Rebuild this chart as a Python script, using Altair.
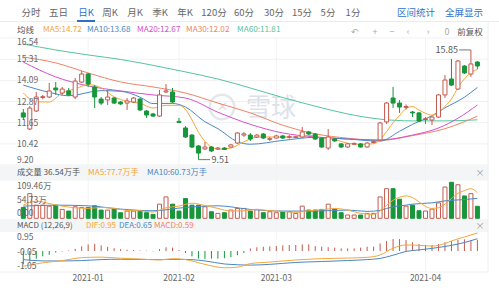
import altair as alt
import pandas as pd
import numpy as np

FONT = "Noto Sans CJK SC"

# ---------------- data ----------------
opens = [12.21, 11.28, 12.32, 13.10, 13.13, 13.65, 13.36, 13.48, 13.13, 13.99,
         14.46, 13.71, 13.01, 12.96, 13.07, 12.84, 12.78, 12.84, 13.01, 12.32,
         12.15, 12.03, 13.42, 13.42, 11.72, 11.34, 10.93, 10.30, 10.13, 10.24,
         10.13, 10.18, 10.24, 10.47, 10.93, 10.93, 10.82, 10.99, 10.68, 10.76,
         10.88, 10.80, 10.80, 10.82, 11.11, 10.99, 10.76, 10.18, 10.70, 10.42,
         10.24, 10.40, 10.42, 10.24, 10.50, 10.65, 11.69, 13.07, 12.78, 12.53,
         12.26, 12.21, 11.83, 11.80, 11.97, 13.25, 14.17, 13.59, 14.92, 14.46,
         15.15]
closes = [11.97, 12.49, 13.13, 13.15, 13.48, 13.54, 13.59, 13.25, 14.05, 14.46,
          13.88, 13.13, 12.78, 13.13, 12.78, 12.73, 12.90, 13.07, 12.38, 12.09,
          12.03, 13.25, 13.48, 12.84, 11.66, 10.82, 10.24, 9.89, 10.24, 10.01,
          10.18, 10.10, 10.36, 11.05, 11.00, 10.70, 10.93, 10.76, 10.72, 10.88,
          10.76, 10.84, 10.83, 11.11, 10.99, 10.70, 10.24, 10.82, 10.59, 10.24,
          10.42, 10.45, 10.24, 10.47, 10.55, 11.63, 12.78, 12.78, 12.55, 12.58,
          12.21, 11.74, 11.88, 11.97, 13.25, 14.11, 13.82, 15.21, 14.52, 15.04,
          14.92]
highs = [12.44, 12.61, 13.42, 13.25, 13.94, 14.00, 13.71, 13.65, 14.23, 14.63,
         14.52, 13.82, 13.13, 13.54, 13.13, 12.90, 13.07, 13.13, 13.07, 12.38,
         12.21, 13.54, 13.88, 13.65, 11.92, 11.45, 10.99, 10.36, 10.53, 10.30,
         10.24, 10.24, 10.42, 11.10, 11.10, 11.05, 10.99, 11.05, 10.82, 10.95,
         10.93, 10.93, 10.88, 11.40, 11.17, 11.05, 10.82, 11.28, 10.76, 10.47,
         10.47, 10.50, 10.47, 10.53, 10.62, 11.69, 12.84, 13.71, 12.96, 12.70,
         12.32, 12.26, 11.97, 12.03, 13.30, 14.40, 15.33, 15.27, 14.98, 15.85,
         15.21]
lows = [11.80, 11.22, 12.26, 13.00, 13.07, 13.25, 13.25, 13.19, 13.01, 13.94,
        13.71, 12.49, 12.67, 12.67, 12.73, 12.67, 12.38, 12.78, 12.32, 11.92,
        11.97, 11.97, 13.36, 12.78, 11.66, 10.76, 10.18, 9.51, 10.07, 9.95,
        10.07, 10.07, 10.20, 10.42, 10.82, 10.59, 10.76, 10.70, 10.59, 10.72,
        10.70, 10.72, 10.76, 10.76, 10.93, 10.65, 10.18, 10.07, 10.53, 10.18,
        10.20, 10.36, 10.20, 10.20, 10.45, 10.59, 11.57, 12.49, 12.21, 12.40,
        11.97, 11.68, 11.57, 11.51, 11.92, 13.07, 13.76, 13.54, 14.46, 14.29,
        14.75]
volumes = [33, 75, 40, 40, 37, 40, 27, 22, 35, 33,
           33, 38, 25, 25, 30, 17, 22, 22, 22, 17,
           12, 43, 65, 43, 22, 60, 40, 40, 35, 20,
           15, 17, 25, 30, 30, 22, 27, 17, 20, 17,
           20, 20, 15, 37, 25, 25, 27, 43, 28, 17,
           10, 10, 10, 15, 15, 65, 90, 90, 58, 37,
           40, 23, 22, 28, 47, 95, 109.46, 102, 68, 75, 36.54]
macd_hist = [-0.70, -0.55, -0.40, -0.28, -0.20, -0.08, -0.03, 0.03, 0.12, 0.25,
             0.35, 0.38, 0.30, 0.22, 0.15, 0.10, 0.07, 0.05, 0.03, 0.02,
             -0.02, 0.10, 0.20, 0.18, 0.05, -0.10, -0.28, -0.40, -0.42, -0.40,
             -0.40, -0.38, -0.32, -0.22, -0.10, 0.14, 0.20, 0.23, 0.25, 0.26,
             0.30, 0.32, 0.32, 0.35, 0.35, 0.26, 0.23, 0.20, 0.18, 0.14,
             0.14, 0.14, 0.18, 0.23, 0.23, 0.40, 0.53, 0.63, 0.63, 0.58,
             0.46, 0.37, 0.32, 0.32, 0.37, 0.46, 0.53, 0.58, 0.62, 0.58, 0.59]

ma5_idx = [0, 2, 4, 6, 8, 10, 12, 14, 16, 18, 20, 22, 24, 25, 26, 27, 28, 29, 30, 32,
           34, 36, 38, 40, 42, 44, 46, 48, 50, 52, 54, 55, 56, 57, 58, 59, 60, 61, 62, 63,
           64, 65, 66, 67, 68, 69, 70]
ma5_val = [13.36, 12.85, 12.84, 13.38, 13.60, 13.85, 13.66, 13.14, 12.88, 12.77,
           12.49, 12.65, 12.65, 12.41, 11.81, 11.09, 10.57, 10.24, 10.11, 10.18,
           10.54, 10.81, 10.82, 10.81, 10.81, 10.91, 10.77, 10.67, 10.46, 10.39,
           10.43, 10.67, 11.13, 11.64, 12.06, 12.46, 12.58, 12.37, 12.19, 12.08,
           12.21, 12.59, 13.01, 13.67, 14.18, 14.54, 14.72]
ma10_idx = [0, 4, 7, 12, 15, 18, 20, 23, 25, 28, 30, 33, 35, 40, 45, 50, 55, 58, 60, 63, 65, 68, 70]
ma10_val = [13.82, 13.40, 13.20, 13.50, 13.46, 13.12, 12.75, 12.76, 12.55, 11.70,
            11.30, 10.55, 10.40, 10.62, 10.80, 10.70, 10.58, 11.15, 11.55, 12.05,
            12.50, 13.12, 13.68]
ma20_idx = [0, 5, 10, 15, 20, 25, 30, 35, 40, 45, 50, 55, 60, 64, 67, 70]
ma20_val = [15.15, 14.29, 13.77, 13.48, 13.25, 13.07, 12.25, 11.55, 11.05, 10.82,
            10.70, 10.65, 10.93, 11.34, 11.90, 12.67]
ma30_idx = [0, 5, 10, 15, 20, 25, 30, 35, 40, 45, 50, 55, 60, 65, 70]
ma30_val = [15.44, 15.10, 14.52, 14.00, 13.71, 13.36, 12.78, 12.21, 11.50, 11.00,
            10.75, 10.62, 10.90, 11.30, 12.02]
ma60_idx = [0, 5, 10, 15, 20, 25, 30, 35, 40, 45, 50, 55, 60, 65, 70]
ma60_val = [16.19, 15.85, 15.56, 15.30, 14.96, 14.58, 14.17, 13.65, 13.10, 12.60,
            12.15, 11.85, 11.75, 11.75, 11.81]

vma5_idx = [0, 2, 4, 6, 8, 10, 12, 14, 16, 18, 20, 22, 24, 26, 28, 30, 32, 34, 36, 38,
            40, 42, 44, 46, 48, 50, 52, 54, 55, 56, 57, 58, 59, 60, 61, 62, 63, 64, 65, 66,
            67, 68, 69, 70]
vma5_val = [40, 52, 45, 37, 32, 30, 33, 30, 24, 23, 19, 32, 37, 46, 39, 30, 22, 23, 27, 23,
            21, 18, 23, 26, 30, 25, 15, 12, 23, 39, 55, 64, 68, 63, 50, 36, 30, 32, 43, 60,
            76, 84, 90, 77.7]
vma10_idx = [0, 5, 10, 15, 20, 25, 30, 35, 40, 45, 50, 53, 55, 56, 58, 59, 60, 63, 65, 68, 70]
vma10_val = [37, 40, 38, 28, 23, 33, 38, 27, 22, 22, 25, 21, 24, 30, 38, 40, 43, 47, 53, 57, 60.73]

dif_idx = [0, 3, 6, 9, 12, 15, 18, 21, 23, 25, 28, 31, 33, 35, 38, 42, 46, 50, 53, 55,
           57, 59, 61, 63, 65, 66, 68, 70]
dif_val = [-0.80, -0.62, -0.50, -0.35, -0.32, -0.38, -0.42, -0.47, -0.40, -0.45,
           -0.70, -0.88, -0.85, -0.66, -0.58, -0.47, -0.40, -0.37, -0.33, -0.21,
           0.15, 0.32, 0.30, 0.26, 0.40, 0.53, 0.74, 0.95]
dea_val = [-0.45, -0.52, -0.52, -0.50, -0.45, -0.43, -0.44, -0.45, -0.44, -0.44,
           -0.52, -0.68, -0.72, -0.74, -0.70, -0.60, -0.55, -0.50, -0.45, -0.39,
           -0.22, -0.02, 0.06, 0.14, 0.24, 0.30, 0.45, 0.65]

price_ticks = [16.54, 15.31, 14.09, 12.87, 11.65, 10.42, 9.20]
vol_ticks = [109.46, 54.73, 0.0]
vol_tick_labels = ["109.46万", "54.73万", "0.00"]
macd_ticks = [0.95, -0.05, -1.05]
month_idx = [10, 24, 39, 62]
month_labels = ["2021-01", "2021-02", "2021-03", "2021-04"]

# ---------------- styling ----------------
RED = "#c25a4e"
GREEN = "#17963b"
C5, C10, C20, C30, C60 = "#f4a73b", "#4b87c5", "#d651c8", "#f08466", "#56c49c"
TXT = "#555555"
AX = "#666666"
BLUE = "#2f6fc9"

n = len(opens)
df = pd.DataFrame({"idx": list(range(n)), "open": opens, "close": closes,
                   "high": highs, "low": lows, "vol": volumes, "hist": macd_hist})
df["up"] = df["close"] >= df["open"]
df["zero"] = 0.0

XS = alt.Scale(domain=[0, n - 1], range=[18.3, 482.4], nice=False, zero=False)
PS = alt.Scale(domain=[9.20, 16.54], range=[165, 38], nice=False, zero=False)
VS = alt.Scale(domain=[0, 109.46], range=[218.3, 182.3], nice=False)
MS = alt.Scale(domain=[-1.05, 0.95], range=[271, 233], nice=False)


def X(f="idx"):
    return alt.X(f"{f}:Q", scale=XS, axis=None)


dummy = pd.DataFrame({"d": [0]})


def txt(s, x, y, color=TXT, size=9, align="left", baseline="middle"):
    return alt.Chart(dummy).mark_text(text=s, align=align, baseline=baseline,
                                      fontSize=size, font=FONT, color=color).encode(
        x=alt.value(x), y=alt.value(y))


def hrule(x1, x2, y, color, w=1):
    return alt.Chart(dummy).mark_rule(color=color, strokeWidth=w).encode(
        x=alt.value(x1), x2=alt.value(x2), y=alt.value(y))


def vrule(x, y1, y2, color, w=1):
    return alt.Chart(dummy).mark_rule(color=color, strokeWidth=w).encode(
        x=alt.value(x), y=alt.value(y1), y2=alt.value(y2))


def band(y1, y2, color="#f4f5f6"):
    return alt.Chart(dummy).mark_rect(color=color).encode(
        x=alt.value(0), x2=alt.value(488), y=alt.value(y1), y2=alt.value(y2))


def line(idx, vals, color, scale):
    d = pd.DataFrame({"idx": idx, "v": vals})
    return alt.Chart(d).mark_line(color=color, strokeWidth=1, interpolate="monotone").encode(
        x=X(), y=alt.Y("v:Q", scale=scale, axis=None))


def grid(vals, scale):
    d = pd.DataFrame({"v": vals})
    return alt.Chart(d).mark_rule(color="#f1f1f1", strokeWidth=1).encode(
        y=alt.Y("v:Q", scale=scale, axis=None), x=alt.value(0), x2=alt.value(488))


def ylabels(vals, labels, scale, baseline):
    d = pd.DataFrame({"v": vals, "lbl": labels})
    return alt.Chart(d).mark_text(align="left", baseline=baseline, fontSize=8.5,
                                  font=FONT, color=AX).encode(
        y=alt.Y("v:Q", scale=scale, axis=None), x=alt.value(17), text="lbl:N")


layers = []
# backgrounds / bands
layers += [band(165.5, 180.5), band(219, 232)]
layers.append(hrule(0, 499, 21.5, "#ececec"))
layers.append(vrule(488, 22, 272, "#eeeeee"))
layers.append(hrule(0, 488, 272, "#eeeeee"))

# vertical month grid
mg = pd.DataFrame({"idx": month_idx})
layers.append(alt.Chart(mg).mark_rule(color="#f3f3f3").encode(
    x=X(), y=alt.value(38), y2=alt.value(272)))

# horizontal grids
layers.append(grid(price_ticks, PS))

# watermark
layers.append(alt.Chart(dummy).mark_point(shape="circle", size=600, filled=False,
                                          color="#d9dee6", strokeWidth=2.5).encode(
    x=alt.value(222), y=alt.value(107)))
layers.append(txt("✕", 222, 107, color="#d9dee6", size=13, align="center"))
layers.append(txt("雪球", 271, 108, color="#dde2ea", size=25, align="center"))

# price MAs
for idx, vals, col in [(ma60_idx, ma60_val, C60), (ma30_idx, ma30_val, C30),
                       (ma20_idx, ma20_val, C20), (ma10_idx, ma10_val, C10),
                       (ma5_idx, ma5_val, C5)]:
    layers.append(line(idx, vals, col, PS))

# candles
colcond = alt.condition(alt.datum.up, alt.value(RED), alt.value(GREEN))
fillcond = alt.condition(alt.datum.up, alt.value("#ffffff"), alt.value(GREEN))
layers.append(alt.Chart(df).mark_rule(strokeWidth=1).encode(
    x=X(), y=alt.Y("low:Q", scale=PS, axis=None), y2="high:Q", color=colcond))
layers.append(alt.Chart(df).mark_bar(size=4, strokeWidth=1).encode(
    x=X(), y=alt.Y("open:Q", scale=PS, axis=None), y2="close:Q",
    fill=fillcond, stroke=colcond))

# high / low annotations
imax = int(np.argmax(highs))
imin = int(np.argmin(lows))
hi = pd.DataFrame({"idx": [imax], "idx2": [imax - 1.8], "p": [highs[imax]],
                   "lbl": [f"{highs[imax]:.2f}"]})
lo = pd.DataFrame({"idx": [imin], "idx2": [imin + 1.8], "p": [lows[imin]],
                   "lbl": [f"{lows[imin]:.2f}"]})
for d, al, dx in [(hi, "right", -13), (lo, "left", 13)]:
    layers.append(alt.Chart(d).mark_rule(color="#777777", strokeWidth=1).encode(
        x=X(), x2="idx2:Q", y=alt.Y("p:Q", scale=PS, axis=None)))
    layers.append(alt.Chart(d).mark_text(align=al, dx=dx, baseline="middle", fontSize=9,
                                         font=FONT, color="#555555").encode(
        x=X(), y=alt.Y("p:Q", scale=PS, axis=None), text="lbl:N"))

# volume
layers.append(alt.Chart(df).mark_bar(size=4, strokeWidth=1).encode(
    x=X(), y=alt.Y("vol:Q", scale=VS, axis=None), y2="zero:Q",
    fill=fillcond, stroke=colcond))
layers.append(line(vma10_idx, vma10_val, C10, VS))
layers.append(line(vma5_idx, vma5_val, C5, VS))

# MACD
layers.append(alt.Chart(df).mark_rule(strokeWidth=1).encode(
    x=X(), y=alt.Y("hist:Q", scale=MS, axis=None), y2="zero:Q",
    color=alt.condition("datum.hist >= 0", alt.value(RED), alt.value(GREEN))))
layers.append(line(dif_idx, dea_val, C10, MS))
layers.append(line(dif_idx, dif_val, C5, MS))

# y labels
plbl = [f"{v:.2f}" for v in price_ticks]
layers.append(ylabels(price_ticks[:1], plbl[:1], PS, "top"))
layers.append(ylabels(price_ticks[1:-1], plbl[1:-1], PS, "middle"))
layers.append(ylabels(price_ticks[-1:], plbl[-1:], PS, "bottom"))
layers.append(ylabels(vol_ticks[:1], vol_tick_labels[:1], VS, "top"))
layers.append(ylabels(vol_ticks[1:2], vol_tick_labels[1:2], VS, "middle"))
layers.append(ylabels(vol_ticks[2:], vol_tick_labels[2:], VS, "bottom"))
mlbl = [f"{v:.2f}" for v in macd_ticks]
layers.append(ylabels(macd_ticks[:1], mlbl[:1], MS, "top"))
layers.append(ylabels(macd_ticks[1:2], mlbl[1:2], MS, "middle"))
layers.append(ylabels(macd_ticks[2:], mlbl[2:], MS, "bottom"))

# x labels
xl = pd.DataFrame({"idx": month_idx, "lbl": month_labels})
layers.append(alt.Chart(xl).mark_text(align="center", baseline="middle", fontSize=8.5,
                                      font=FONT, color=AX).encode(
    x=X(), y=alt.value(278), text="lbl:N"))

# tab bar
tabs = [("分时", 31), ("五日", 58.5), ("日K", 86), ("周K", 110), ("月K", 135), ("季K", 160),
        ("年K", 185), ("120分", 214), ("60分", 244), ("30分", 274), ("15分", 302),
        ("5分", 328), ("1分", 353)]
for s, x in tabs:
    layers.append(txt(s, x, 13, color=(BLUE if s == "日K" else "#666666"), size=9.5, align="center"))
layers.append(txt("区间统计", 416, 13, color=BLUE, size=9.5, align="center"))
layers.append(txt("全屏显示", 464, 13, color=BLUE, size=9.5, align="center"))
layers.append(hrule(77, 95, 21, BLUE, 2))

# MA legend row
layers.append(txt("均线", 17, 30, color=TXT, size=8.5))
for s, x, c in [("MA5:14.72", 43, C5), ("MA10:13.68", 87, C10), ("MA20:12.67", 137, C20),
                ("MA30:12.02", 186, C30), ("MA60:11.81", 237, C60)]:
    layers.append(txt(s, x, 30, color=c, size=8.2))
for s, x in [("↶", 355), ("+", 375), ("−", 392), ("‹", 408), ("›", 428), ("0", 447)]:
    layers.append(txt(s, x, 31.5, color="#aaaaaa", size=9, align="center"))
layers.append(txt("前复权", 470, 31.5, color=TXT, size=8.5, align="center"))

# volume legend row
layers.append(txt("成交量 36.54万手", 17, 172.5, color=TXT, size=8.2))
layers.append(txt("MA5:77.7万手", 88, 172.5, color=C5, size=8.2))
layers.append(txt("MA10:60.73万手", 147, 172.5, color=C10, size=8.2))
layers.append(txt("×", 480, 172.5, color="#999999", size=9, align="center"))

# MACD legend row
layers.append(txt("MACD (12,26,9)", 17, 225.5, color=TXT, size=8))
layers.append(txt("DIF:0.95", 86, 225.5, color=C5, size=8))
layers.append(txt("DEA:0.65", 119, 225.5, color=C10, size=8))
layers.append(txt("MACD:0.59", 154, 225.5, color=C30, size=8))
layers.append(txt("×", 480, 225.5, color="#999999", size=9, align="center"))

chart = alt.layer(*layers).resolve_scale(y="independent").properties(
    width=499, height=290, padding=0,
    autosize=alt.AutoSizeParams(type="none"), background="white"
).configure_view(stroke=None)

chart.save("out.html", embed_options={"renderer": "svg", "actions": False})
